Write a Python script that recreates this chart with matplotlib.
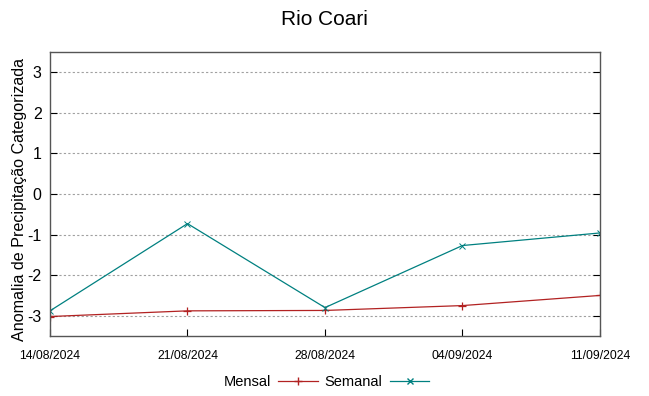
import matplotlib
matplotlib.use("Agg")
import matplotlib.pyplot as plt
from matplotlib.lines import Line2D

datas = ["14/08/2024", "21/08/2024", "28/08/2024", "04/09/2024", "11/09/2024"]
mensal = [-3.02, -2.88, -2.87, -2.75, -2.50]
semanal = [-2.88, -0.73, -2.80, -1.27, -0.96]
yticks = [-3, -2, -1, 0, 1, 2, 3]

cor_mensal = "#b22222"
cor_semanal = "#008080"

plt.rcParams['font.family'] = ['Liberation Sans', 'DejaVu Sans']

fig = plt.figure(figsize=(6.49, 3.96), dpi=100)
ax = fig.add_axes([0.077, 0.1515, 0.8475, 0.7172])

x = list(range(len(datas)))
ax.plot(x, mensal, color=cor_mensal, lw=0.9, marker="+", ms=6, mew=0.9)
ax.plot(x, semanal, color=cor_semanal, lw=0.9, marker="x", ms=5, mew=0.7)

ax.set_xlim(0, len(datas) - 1)
ax.set_ylim(-3.5, 3.5)
ax.set_xticks(x)
ax.set_xticklabels(datas, fontsize=8.8)
ax.set_yticks(yticks)
ax.set_yticklabels([str(v) for v in yticks], fontsize=11.5)
ax.tick_params(axis="both", direction="in", length=5, color="black",
               top=False, right=True, width=0.8)
ax.tick_params(axis="x", pad=10)
ax.tick_params(axis="y", pad=6)
ax.grid(axis="y", color="#a0a0a0", ls=(0, (2, 2)), lw=0.8)
for s in ax.spines.values():
    s.set_color("#555555")
    s.set_linewidth(1)

ax.set_ylabel("Anomalia de Precipitação Categorizada", fontsize=11.6)
ax.yaxis.set_label_coords(-0.042, 0.481)
fig.suptitle("Rio Coari", fontsize=15, y=0.975)

handles = [
    Line2D([], [], color=cor_mensal, lw=0.9, marker="+", ms=6),
    Line2D([], [], color=cor_semanal, lw=0.9, marker="x", ms=4.5),
]
fig.legend(handles, ["Mensal", "Semanal"], loc="lower center",
           bbox_to_anchor=(0.503, -0.015), ncol=2, frameon=False, fontsize=10.5,
           handlelength=2.7, handletextpad=0.5, markerfirst=False,
           columnspacing=0.5)

fig.savefig("out.png", dpi=100)
